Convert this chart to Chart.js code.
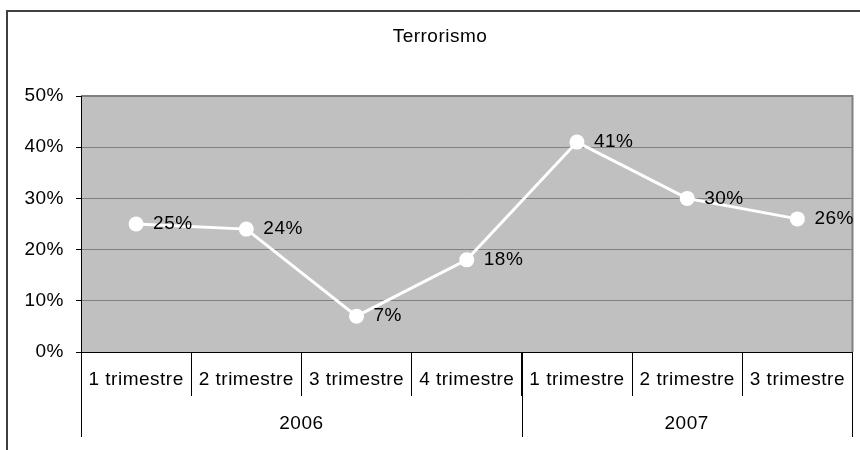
<!DOCTYPE html>
<html><head><meta charset="utf-8">
<script src="https://cdn.jsdelivr.net/npm/chart.js@4"></script>
<style>html,body{margin:0;padding:0;background:#fff;overflow:hidden}</style>
</head><body>
<canvas id="c" width="860" height="450"></canvas>
<script>
const quarters = ['1 trimestre','2 trimestre','3 trimestre','4 trimestre','1 trimestre','2 trimestre','3 trimestre'];
const years = ['2006','2007'];
const yearSpans = [4,3];
const values = [25,24,7,18,41,30,26];
const yTicks = [0,10,20,30,40,50];
const chartTitle = 'Terrorismo';
const FONT = "'Liberation Sans', Arial, sans-serif";

const decoPlugin = {
  id: 'deco',
  beforeInit(chart) {
    if ('letterSpacing' in chart.ctx) chart.ctx.letterSpacing = '0.5px';
  },
  beforeDraw(chart) {
    const {ctx, chartArea: a} = chart;
    if ('letterSpacing' in ctx) ctx.letterSpacing = '0.5px';
    ctx.save();
    ctx.fillStyle = '#fff';
    ctx.fillRect(0, 0, chart.width, chart.height);
    ctx.strokeStyle = '#404040';
    ctx.lineWidth = 2;
    ctx.strokeRect(7, 11, chart.width + 20, chart.height + 20);
    ctx.fillStyle = '#C0C0C0';
    ctx.fillRect(a.left, a.top, a.right - a.left, a.bottom - a.top);
    ctx.strokeStyle = '#808080';
    ctx.lineWidth = 2;
    ctx.beginPath();
    ctx.moveTo(a.left, a.top);
    ctx.lineTo(a.right, a.top);
    ctx.lineTo(a.right, a.bottom);
    ctx.stroke();
    ctx.restore();
  },
  afterDraw(chart) {
    const {ctx, chartArea: a} = chart;
    const xs = chart.scales.x;
    const half = (xs.getPixelForValue(1) - xs.getPixelForValue(0)) / 2;
    ctx.save();
    ctx.strokeStyle = '#000';
    ctx.lineWidth = 1;
    let start = 0;
    const bounds = [a.left];
    yearSpans.forEach((span) => {
      const end = start + span - 1;
      bounds.push(xs.getPixelForValue(end) + half);
      start += span;
    });
    bounds[bounds.length - 1] = a.right - 1;
    bounds.forEach((bx) => {
      const px = Math.round(bx) + 0.5;
      ctx.beginPath();
      ctx.moveTo(px, a.bottom);
      ctx.lineTo(px, a.bottom + 85);
      ctx.stroke();
    });
    ctx.fillStyle = '#000';
    ctx.font = '19px ' + FONT;
    ctx.textAlign = 'center';
    ctx.textBaseline = 'middle';
    years.forEach((yr, i) => {
      ctx.fillText(yr, (bounds[i] + bounds[i + 1]) / 2, a.bottom + 72);
    });
    const meta = chart.getDatasetMeta(0);
    ctx.textAlign = 'left';
    meta.data.forEach((pt, i) => {
      ctx.fillText(values[i] + '%', pt.x + 17, pt.y);
    });
    ctx.restore();
  }
};

new Chart(document.getElementById('c'), {
  type: 'line',
  data: {
    labels: quarters,
    datasets: [{
      data: values,
      borderColor: '#fff',
      borderWidth: 3,
      pointRadius: 7.5,
      pointBackgroundColor: '#fff',
      pointBorderColor: '#fff',
      pointBorderWidth: 0,
      tension: 0,
      fill: false
    }]
  },
  options: {
    responsive: false,
    animation: false,
    devicePixelRatio: 1,
    layout: {padding: {left: 24, right: 4, top: 0, bottom: 0}},
    plugins: {
      legend: {display: false},
      tooltip: {enabled: false},
      title: {
        display: true,
        text: chartTitle,
        color: '#000',
        font: {family: FONT, size: 19, weight: 'normal'},
        padding: {top: 25.6, bottom: 47.6}
      }
    },
    scales: {
      x: {
        type: 'category',
        offset: true,
        grid: {offset: true, drawOnChartArea: false, drawTicks: true, tickLength: 44, tickColor: '#000', color: '#000', lineWidth: 1},
        border: {color: '#000', width: 1},
        ticks: {color: '#000', font: {family: FONT, size: 19}, padding: -27.4, maxRotation: 0, minRotation: 0, autoSkip: false},
        afterFit(s) { s.height = 98; }
      },
      y: {
        min: 0,
        max: 50,
        afterBuildTicks(s) { s.ticks = yTicks.map(v => ({value: v})); },
        grid: {color: '#808080', tickColor: '#000', tickLength: 5, lineWidth: 1},
        border: {color: '#000', width: 1},
        ticks: {callback: v => v + '%', color: '#000', font: {family: FONT, size: 19}, padding: 12},
        afterFit(s) { s.width = 57; }
      }
    }
  },
  plugins: [decoPlugin]
});
</script>
</body></html>
